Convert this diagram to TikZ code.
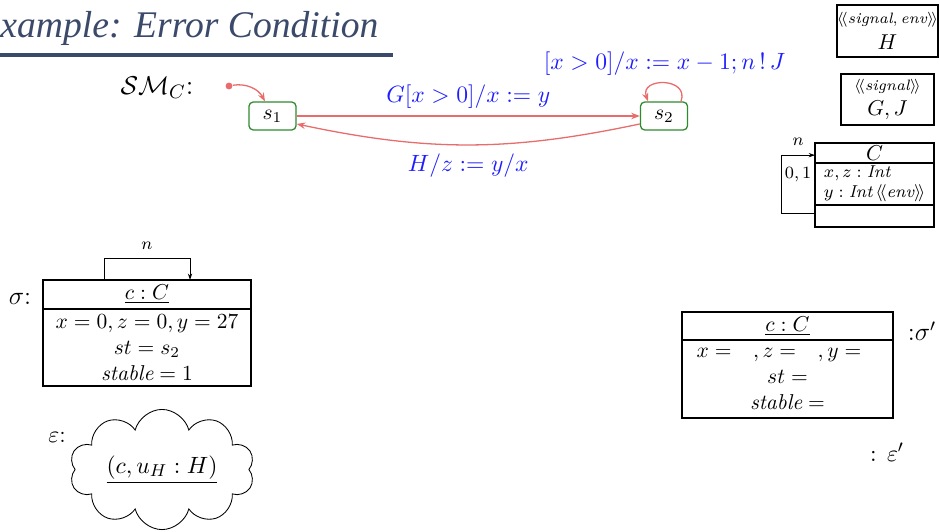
\documentclass[tikz,border=0pt]{standalone}
\usepackage{amsmath}
\usepackage{fontspec}
\newfontfamily\titlefont{Liberation Serif}
\usetikzlibrary{positioning, arrows.meta, shapes.symbols}
\definecolor{titlec}{RGB}{59,73,106}
\definecolor{redc}{RGB}{232,108,108}
\definecolor{greenc}{RGB}{46,139,46}
\definecolor{bluec}{RGB}{30,30,255}
\newcommand{\stereo}[1]{\langle\!\langle #1\rangle\!\rangle}

\begin{document}
\begin{tikzpicture}[x=0.465pt, y=-0.465pt, font=\normalsize,
  state/.style={draw=greenc, rounded corners=2pt, line width=0.6pt,
    minimum width=21.9pt, minimum height=13pt, inner sep=0pt},
  trans/.style={draw=redc, line width=0.6pt, -{Stealth[length=4pt, width=3pt]}},
  lbl/.style={text=bluec, font=\fontsize{11}{13}\selectfont},
  umlbox/.style={draw, line width=0.9pt, inner sep=0pt, outer sep=0pt, align=center},
  assoc/.style={draw, line width=0.4pt, -{Stealth[length=3pt, width=2pt]}}]

\useasboundingbox (0,0) rectangle (940,531);

% title of the frame, cut at the left edge
\node[anchor=base west, inner sep=0pt, text=titlec,
  font=\titlefont\itshape\fontsize{17.5}{20}\selectfont] (title) at (0,38) {xample: Error Condition};
\draw[titlec, line width=1.4pt] (0,55) -- (393,55);

% state machine of C
\node[font=\fontsize{13}{15}\selectfont] (smlabel) at (157,88) {$\mathcal{SM}_C$:};
\node[circle, fill=redc, inner sep=0pt, minimum size=3.2pt] (init) at (229,86) {};
\node[state] (s1) at (272.5,116) {$s_1$};
\node[state] (s2) at (664,116) {$s_2$};

\draw[trans] (init) to[bend left=35] ([xshift=-3.5pt]s1.north);
\draw[trans] (s1) -- node[lbl, midway, above=0pt] {$G[x>0]/x:=y$} (s2);
\draw[trans] ([yshift=-3.7pt]s2.west) to[bend left=12]
  node[lbl, midway, below=0.5pt] {$H/z:=y/x$} ([yshift=-3.7pt]s1.east);
\draw[trans] ([xshift=7.9pt]s2.north) to[out=70, in=110, distance=12pt]
  node[lbl, midway, above=0pt] {$[x>0]/x:=x-1;n\,!\,J$} ([xshift=-7.4pt]s2.north);

% signals
\node[umlbox, minimum width=43.2pt, minimum height=24.2pt] (sigH) at (887.5,31)
  {{\scriptsize$\stereo{\mathit{signal}, \mathit{env}}$}\\$H$};
\node[umlbox, minimum width=43.2pt, minimum height=23.7pt] (sigGJ) at (887.5,99.5)
  {{\scriptsize$\stereo{\mathit{signal}}$}\\$G, J$};

% class C
\node[umlbox, minimum width=55.3pt, minimum height=9.3pt] (chead) at (874.5,153) {$C$};
\node[umlbox, below=0pt of chead, text width=50pt, inner xsep=2.65pt, align=left,
  minimum height=19.5pt, font=\footnotesize] (cattr)
  {\hspace*{1.5pt}$x, z: \mathit{Int}$\\\hspace*{1.5pt}$y: \mathit{Int}\,\stereo{\mathit{env}}$};
\node[umlbox, below=0pt of cattr, minimum width=55.3pt, minimum height=10.2pt,
  line width=0.6pt] (cempty) {};
\draw[assoc] ([yshift=1.3pt]cempty.west) -- ++(-15.8pt,0) |-
  node[pos=0.75, above=1pt, font=\footnotesize] {$n$}
  node[pos=0.75, below=2pt, font=\footnotesize] {$0,1$} ([yshift=-1pt]chead.west);

% system state sigma
\node[font=\fontsize{12}{14}\selectfont] (siglabel) at (20,299) {$\sigma$:};
\node[umlbox, minimum width=96.7pt, minimum height=13.5pt] (sighead) at (147,294.5) {$\underline{c:C}$};
\node[umlbox, below=0pt of sighead, minimum width=96.7pt, minimum height=35.8pt] (sigbody)
  {$x=0, z=0, y=27$\\$st=s_2$\\$\mathit{stable}=1$};
\draw[assoc] ([xshift=-20pt]sighead.north) -- ++(0,9.8pt) coordinate (sigtop) -|
  node[pos=0.25, above=1pt, font=\footnotesize] {$n$} ([xshift=20pt]sighead.north);

% environment epsilon
\node[font=\fontsize{11}{13}\selectfont] (epslabel) at (57,437) {$\varepsilon$:};
\node[cloud, draw, cloud puffs=10, aspect=1.8, minimum width=86pt, minimum height=48pt,
  inner sep=0pt, font=\fontsize{11}{13}\selectfont] (envcloud) at (162,469.5) {$\underline{(c, u_H: H)}$};

% successor state sigma'
\node[umlbox, minimum width=98.1pt, minimum height=13pt] (sig2head) at (787.5,326) {$\underline{c:C}$};
\node[umlbox, below=0pt of sig2head, minimum width=98.1pt, minimum height=36.3pt] (sig2body)
  {$x=\hspace{10pt}, z=\hspace{10pt}, y=\hspace{8pt}$\\$st=$\\$\mathit{stable}=$};
\node[font=\fontsize{12}{14}\selectfont] (sig2label) at (922,331) {:$\sigma'$};
\node[font=\fontsize{11}{13}\selectfont] (eps2label) at (887,452) {$:\,\varepsilon'$};

\end{tikzpicture}
\end{document}
